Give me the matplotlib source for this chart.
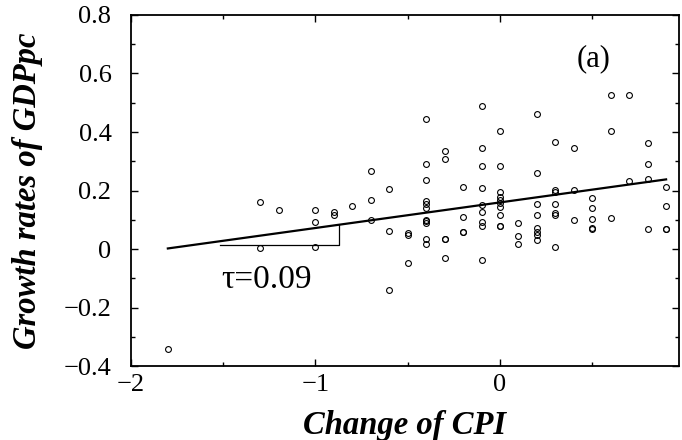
import matplotlib
matplotlib.use("Agg")
import matplotlib.pyplot as plt
from matplotlib.ticker import MultipleLocator, FuncFormatter

# data, grouped by CPI change column
cpi_cols = [-1.8, -1.3, -1.2, -1.0, -0.9, -0.8, -0.7, -0.6, -0.5, -0.4, -0.3,
            -0.2, -0.1, 0.0, 0.1, 0.2, 0.3, 0.4, 0.5, 0.6, 0.7, 0.8, 0.9]
growth = [
    [-0.34],
    [0.16, 0.005],
    [0.132],
    [0.132, 0.093, 0.007],
    [0.126, 0.115],
    [0.148],
    [0.268, 0.166, 0.10],
    [0.206, 0.06, -0.14],
    [0.054, 0.048, -0.047],
    [0.443, 0.29, 0.235, 0.163, 0.154, 0.139, 0.10, 0.095, 0.088, 0.033, 0.016],
    [0.335, 0.307, 0.033, 0.033, -0.031],
    [0.213, 0.11, 0.057, 0.057],
    [0.488, 0.346, 0.283, 0.209, 0.152, 0.128, 0.093, 0.08, -0.036],
    [0.403, 0.285, 0.194, 0.179, 0.168, 0.158, 0.142, 0.116, 0.079, 0.079],
    [0.09, 0.044, 0.016],
    [0.463, 0.261, 0.153, 0.117, 0.071, 0.059, 0.047, 0.031],
    [0.366, 0.202, 0.196, 0.155, 0.124, 0.115, 0.008],
    [0.345, 0.202, 0.099],
    [0.174, 0.139, 0.104, 0.072, 0.068],
    [0.526, 0.403, 0.105],
    [0.525, 0.232],
    [0.361, 0.292, 0.238, 0.067],
    [0.211, 0.148, 0.067, 0.067],
]
fit_x = [-1.8, 0.9]
fit_y = [0.002, 0.238]
tau_label = "\u03c4=0.09"

xs, ys = [], []
for c, vals in zip(cpi_cols, growth):
    for v in vals:
        xs.append(c)
        ys.append(v)

plt.rcParams['font.family'] = ['Liberation Serif', 'DejaVu Serif']

fig = plt.figure(figsize=(6.82, 4.40), dpi=100)
ax = fig.add_axes([0.192, 0.168, 0.8036, 0.798])

ax.plot(xs, ys, 'o', ms=4.2, mfc='none', mec='black', mew=0.8)
ax.plot(fit_x, fit_y, color='black', lw=1.6)

# slope triangle
slope = (fit_y[1] - fit_y[0]) / (fit_x[1] - fit_x[0])
x0, x1 = -1.52, -0.874
ybase = 0.013
ax.plot([x0, x1, x1], [ybase, ybase, fit_y[0] + slope * (x1 - fit_x[0])],
        color='black', lw=0.9)
ax.text(-1.51, -0.105, tau_label, fontsize=24, va='center', ha='left')
ax.text(0.507, 0.65, "(a)", fontsize=22, va='center', ha='center')

ax.set_xlim(-2, 0.97)
ax.set_ylim(-0.4, 0.8)
ax.xaxis.set_major_locator(MultipleLocator(1))
ax.xaxis.set_minor_locator(MultipleLocator(0.5))
ax.yaxis.set_major_locator(MultipleLocator(0.2))
ax.yaxis.set_minor_locator(MultipleLocator(0.1))
fmt = FuncFormatter(lambda v, p: ("%g" % round(v, 3)).replace('-', '\u2212'))
ax.xaxis.set_major_formatter(fmt)
ax.yaxis.set_major_formatter(fmt)
ax.tick_params(which='both', direction='in', top=True, right=True,
               labelsize=19, width=1.0)
ax.tick_params(which='major', length=5)
ax.tick_params(which='minor', length=3)
ax.tick_params(axis='x', which='major', pad=6)
ax.tick_params(axis='y', which='major', pad=14)
for s in ax.spines.values():
    s.set_linewidth(1.3)

ax.set_xlabel("Change of CPI", fontsize=23.5, fontweight='bold',
              fontstyle='italic')
ax.set_ylabel("Growth rates of GDPpc", fontsize=23.5, fontweight='bold',
              fontstyle='italic')
ax.xaxis.set_label_coords(0.5, -0.125)
ax.yaxis.set_label_coords(-0.161, 0.5)

fig.savefig("out.png", dpi=100)
